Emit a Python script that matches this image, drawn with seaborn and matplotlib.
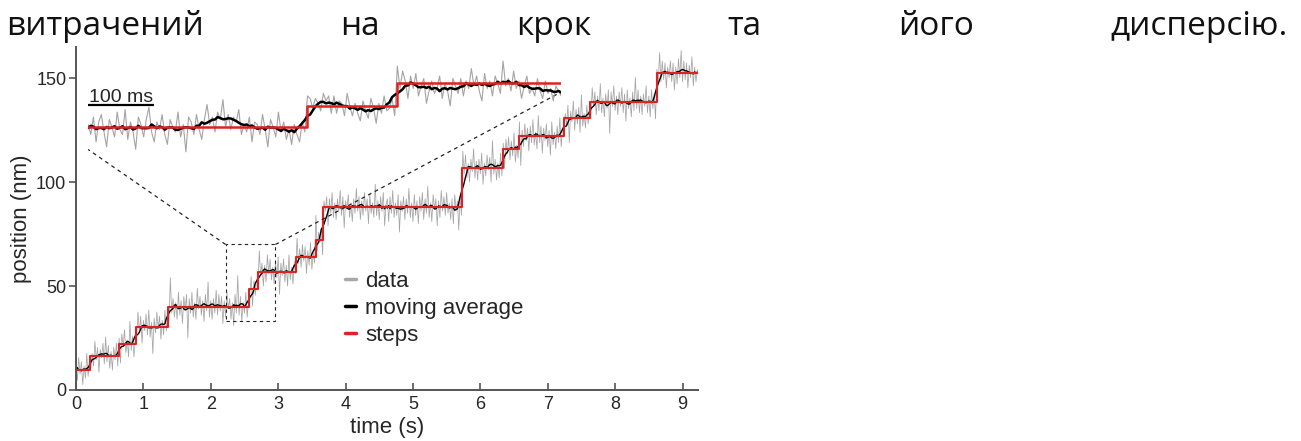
import numpy as np
import pandas as pd
import matplotlib
matplotlib.use("Agg")
import matplotlib.pyplot as plt
from matplotlib.lines import Line2D
from matplotlib.patches import Rectangle
import seaborn as sns

# ---------------- data ----------------
# fitted staircase of the full trace (seconds / nm)
step_edges_s = [0, 0.21, 0.64, 0.89, 1.37, 2.57, 2.70, 3.27, 3.56, 3.67,
                5.73, 6.34, 6.57, 7.24, 7.63, 8.62, 9.23]
step_levels_nm = [9.6, 16.5, 22, 30.5, 40, 48.5, 57, 64, 72, 88,
                  107, 115.7, 122, 131, 138.4, 152.3]

# raw position fluctuation about the staircase, sampled every 20 ms
sample_dt_s = 0.02
deviation_nm = [
    3, -5, 6, -2, 4, -7, 2, -4, 8, -3, 5, -6, 1, -5, 7, -2, 4, -8, 3, -1, 6,
    -4, 9, -3, 5, -6, 2, -7, 4, -2, 6, -5, 3, -9, 5, -1, 7, -4, 2, -6, 11, -3,
    4, -6, 2, -5, 7, -3, 5, -8, 3, -2, 6, -4, 8, -5, 2, -13, 4, -3, 7, -1, 5,
    -6, 3, -4, 8, -2, 5, -7, 14, -3, 4, -5, 2, -6, 7, -4, 3, -8, 5, -2, 6, -15,
    4, -3, 7, -5, 2, -6, 9, -1, 5, -4, 3, -7, 6, -2, 12, -5, 3, -6, 4, -3, 8,
    -4, 6, -2, 5, -8, 3, -5, 7, -1, 4, -6, 2, -9, 6, -3, 15, -4, 5, -7, 2, -3,
    7, -5, 3, -2, 6, -8, 4, -3, 5, -6, 10, -2, 4, -7, 3, -5, 8, -1, 6, -4, 2,
    -6, 5, -3, 7, -11, 4, -2, 6, -5, 3, -7, 8, -4, 2, -6, 5, -1, 9, -3, 4, -5,
    6, -2, 5, -8, 3, -4, 7, -6, 2, -3, 12, -5, 4, -1, 6, -7, 3, -2, 5, -9, 4,
    -3, 7, -5, 2, -6, 4, -2, 8, -4, 5, -10, 3, -1, 6, -5, 2, -7, 4, -3, 9, -2,
    5, -6, 3, -4, 7, -2, 4, -8, 6, -3, 2, -5, 11, -4, 3, -6, 5, -2, 7, -9, 1,
    4, -7, 5, -3, 8, -5, 2, -4, 6, -12, 3, -2, 5, -6, 4, -3, 9, -5, 2, -7, 6,
    -4, 3, -8, 5, -2, 7, -6, 4, -3, 10, -5, 2, -7, 6, -1, 4, -9, 3, -5, 8, -2,
    5, -4, 7, -3, 2, -6, 4, -8, 6, -2, 3, -11, 5, -4, 8, -3, 6, -5, 2, -7, 4,
    -2, 9, -5, 3, -6, 4, -3, 7, -8, 2, -4, 6, -1, 5, -7, 13, -3, 4, -6, 2, -5,
    7, -4, 3, -9, 5, -2, 6, -5, 4, -3, 8, -6, 2, -4, 7, -14, 3, -5, 6, -2, 4,
    -7, 5, -3, 8, -4, 2, -6, 10, -3, 5, -8, 4, -2, 6, -5, 3, -9, 7, -4, 2, -6,
    5, -3, 9, -5, 4, -7, 2, -4, 6, -12, 3, -2, 8, -6, 4, -3, 5, -7, 11, -4, 2,
    -5, 6, -3, 4, -8, 7, -2, 5, -6, 3, -4, 9, -5, 2, -7, 4, -3, 6, -15, 5, -2,
    8, -4, 3, -6, 5, -2, 7, -5, 4, -9, 6, -3, 2, -7, 5, -4, 12, -3, 6, -5, 3,
    -6, 4, -2, 8, -5, 3, -7, 6, -3, 4, -8, 2, -5, 10, -4, 6, -3, 5, -7, 3, -2,
    6, -4, 5, -8, 3, -5, 7, -2, 11, -4, 6, -3, 5, -7, 4, -2, 8, -6, 3, -4, 2,
]

# magnified excerpt (milliseconds / nm), sampled every 4 ms
inset_edges_ms = [0, 331, 467, 716]
inset_levels_nm = [40, 48.5, 57.5]
inset_dt_ms = 4
inset_deviation_nm = [
    1, -3, 4, -6, 2, 5, -2, -8, 3, 0, -4, 6, -1, -3, 7, -5, 2, -2, -9, 4,
    1, -4, 3, 8, -2, -6, 2, -1, 5, -3, -7, 3, 0, -2, 6, -4, 1, -10, 4, 2,
    -3, 5, -1, -5, 3, 9, 1, 4, -2, 6, 3, 11, 0, 5, -1, 4, 2, 7, -3, 1,
    -2, 4, -6, 2, 1, -3, 5, -1, -8, 3, 0, -4, 6, -2, 2, -5, -1, -7, 1, -3,
    -6, 2, -2, 4, 3, -1, 3, 1, -2, 5, 2, 4, -3, 4, -3, 2, 1, -4, 5, 0,
    -4, 1, -3, -6, 2, -2, -5, 3, -1, -7, 1, -3, 4, -2, -1, 3, -4, 7, -2, 5,
    1, -6, 3, -2, 4, -5, -1, 2, -8, -3, 1, -4, -2, 3, -6, 0, -3, -9, 2, -1,
    -4, 2, -5, 1, -2, 6, -1, 3, -3, -7, 4, -2, 1, -5, 3, 0, -4, 9, -1, 2,
    -3, 5, -2, 1, -6, -1, 3, -4, -2, -5, 2, -3, -6, 1, -4, -2, -7, -1, -3, -5,
]
scale_bar_ms = 100

legend_labels = ["data", "moving average", "steps"]
heading_words = ["витрачений", "на", "крок", "та", "його", "дисперсію."]

# ---------------- style ----------------
sns.set_theme(style="ticks")
plt.rcParams["font.family"] = ["Liberation Sans", "DejaVu Sans"]

RED = "#dc2323"
GRAY = "#9a9a9a"
SPINE = "#555555"
W, H = 1301, 441


def staircase(edges, levels, times):
    idx = np.searchsorted(edges, times, side="right") - 1
    idx = np.clip(idx, 0, len(levels) - 1)
    return np.asarray(levels, dtype=float)[idx]


fig = plt.figure(figsize=(W / 100, H / 100), dpi=100)
ax = fig.add_axes([76 / W, 1 - 390 / H, (698 - 76) / W, (390 - 47) / H])

# ---------------- full trace ----------------
t = np.arange(len(deviation_nm)) * sample_dt_s
trace = pd.DataFrame({"time": t,
                      "position": staircase(step_edges_s, step_levels_nm, t)
                      + np.asarray(deviation_nm, dtype=float)})
trace["smooth"] = trace["position"].rolling(8, center=True, min_periods=1).mean()

sns.lineplot(data=trace, x="time", y="position", ax=ax, color=GRAY,
             lw=0.55, alpha=0.9, estimator=None, sort=False)
sns.lineplot(data=trace, x="time", y="smooth", ax=ax, color="black",
             lw=1.0, estimator=None, sort=False)
sns.lineplot(x=step_edges_s, y=step_levels_nm + [step_levels_nm[-1]], ax=ax,
             color=RED, lw=1.5, drawstyle="steps-post", estimator=None)

ax.set_xlim(0, 9.23)
ax.set_ylim(0, 165)
ax.set_xticks(range(0, 10))
ax.set_yticks([0, 50, 100, 150])
ax.set_xlabel("time (s)", fontsize=16, labelpad=3)
ax.set_ylabel("position (nm)", fontsize=16, labelpad=3)
ax.tick_params(axis="y", direction="out", length=5, width=1.2, color=SPINE,
               labelsize=13, pad=2)
ax.tick_params(axis="x", direction="in", length=5, width=1.2, color=SPINE,
               labelsize=13, pad=4)
sns.despine(ax=ax)
for side in ("left", "bottom"):
    ax.spines[side].set_color(SPINE)
    ax.spines[side].set_linewidth(1.4)

# zoom window and its connectors
box_t, box_nm = (2.22, 2.96), (33, 70)
dash = dict(color="#222222", lw=0.9, ls=(0, (3, 3)))
ax.add_patch(Rectangle((box_t[0], box_nm[0]), box_t[1] - box_t[0],
                       box_nm[1] - box_nm[0], fill=False, ec="#222222",
                       lw=0.8, ls=(0, (3, 3)), zorder=4))
ax.plot([box_t[0], 0.18], [box_nm[1], 115.7], **dash)
ax.plot([box_t[1], 7.18], [box_nm[1], 143], **dash)

# ---------------- magnified excerpt ----------------
ax_in = ax.inset_axes([0.18, 105, 7.02, 55], transform=ax.transData)
ax_in.patch.set_alpha(0)
ti = np.arange(len(inset_deviation_nm)) * inset_dt_ms
excerpt = pd.DataFrame({"time": ti,
                        "position": staircase(inset_edges_ms, inset_levels_nm, ti)
                        + np.asarray(inset_deviation_nm, dtype=float)})
excerpt["smooth"] = excerpt["position"].rolling(10, center=True, min_periods=1).mean()

sns.lineplot(data=excerpt, x="time", y="position", ax=ax_in, color="#9a9a9a",
             lw=0.8, alpha=0.9, estimator=None, sort=False)
sns.lineplot(data=excerpt, x="time", y="smooth", ax=ax_in, color="black",
             lw=1.8, estimator=None, sort=False)
sns.lineplot(x=inset_edges_ms, y=inset_levels_nm + [inset_levels_nm[-1]],
             ax=ax_in, color=RED, lw=1.8, drawstyle="steps-post", estimator=None)
ax_in.set_xlim(0, 716)
ax_in.set_ylim(22, 68)
ax_in.set_xticks([])
ax_in.set_yticks([])
ax_in.set_xlabel("")
ax_in.set_ylabel("")
ax_in.set_axis_off()

bar_y = 48.8
ax_in.plot([0, scale_bar_ms], [bar_y, bar_y], color="black", lw=1.6,
           solid_capstyle="butt")
ax_in.text(scale_bar_ms / 2, bar_y + 1.2, f"{scale_bar_ms} ms", ha="center",
           va="baseline", fontsize=14)

# ---------------- legend ----------------
handles = [Line2D([], [], color="#a8a8a8", lw=2.5),
           Line2D([], [], color="black", lw=2.5),
           Line2D([], [], color=RED, lw=2.5)]
ax.legend(handles, legend_labels, loc="upper left",
          bbox_to_anchor=(345 / W, 1 - 271 / H), bbox_transform=fig.transFigure,
          frameon=False, fontsize=16, handlelength=0.5, handletextpad=0.4,
          labelspacing=0.26, borderpad=0, borderaxespad=0)

# ---------------- justified heading line ----------------
baseline = 1 - 35 / H
words = [fig.text(0, baseline, w, fontsize=24, family="Open Sans",
                  color="#111111", va="baseline") for w in heading_words]
fig.canvas.draw()
renderer = fig.canvas.get_renderer()
widths = [w.get_window_extent(renderer).width for w in words]
left_px, right_px = 6, 1288
gap = (right_px - left_px - sum(widths)) / (len(words) - 1)
x = left_px
for w, wd in zip(words, widths):
    w.set_x(x / W)
    x += wd + gap

fig.savefig("out.png", dpi=100)
